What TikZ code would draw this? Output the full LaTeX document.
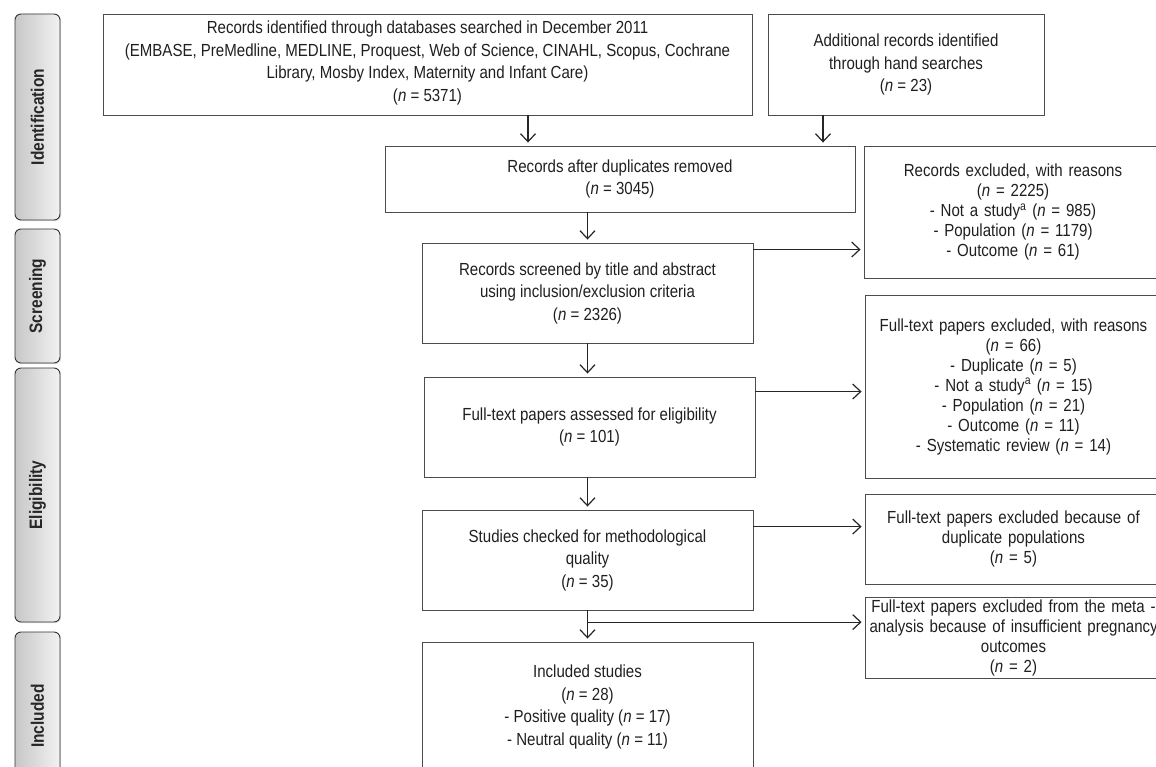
\documentclass[tikz,border=0pt]{standalone}
\usepackage{fontspec}
\setmainfont[FakeStretch=0.86]{Liberation Sans}
\usetikzlibrary{arrows.meta,shadows,calc}

\begin{document}
\begin{tikzpicture}[x=1pt,y=-1pt,
    box/.style={draw=black!70, line width=0.9pt, align=center, inner sep=0pt, text=black!88,
      font=\fontsize{17.5}{22.5}\selectfont},
    sidebox/.style={box, text width=288pt, font=\fontsize{17.5}{20}\selectfont},
    phase/.style={draw=black!80, line width=0.9pt, rounded corners=6pt, rotate=90,
      left color=black!22, right color=black!5, text=black!85, inner sep=0pt,
      font=\bfseries\fontsize{18}{20}\selectfont,
      drop shadow={shadow xshift=1.2pt, shadow yshift=-1.2pt, opacity=0.25}},
    arr/.style={-{Straight Barb[length=8pt,width=15pt]}, line width=1.2pt, draw=black!85, shorten >=3pt}]
  \useasboundingbox (0,0) rectangle (1156,767);
  \clip (0,0) rectangle (1156,767);

  % phases on the left
  \node[phase, minimum width=206pt, minimum height=45pt] (ident) at (37.5,117) {Identification};
  \node[phase, minimum width=134pt, minimum height=45pt] (scr) at (37.5,296) {Screening};
  \node[phase, minimum width=254pt, minimum height=45pt] (elig) at (37.5,495) {Eligibility};
  \node[phase, minimum width=168pt, minimum height=45pt] (inc) at (37.5,716) {Included};

  % main column
  \node[box, minimum width=649pt, minimum height=101pt] (recdb) at (427.5,64.5)
    {Records identified through databases searched in December 2011\\(EMBASE, PreMedline, MEDLINE, Proquest, Web of Science, CINAHL, Scopus, Cochrane\\Library, Mosby Index, Maternity and Infant Care)\\(\textit{n} = 5371)\\[-16pt]\mbox{}};
  \node[box, minimum width=276pt, minimum height=101pt] (hand) at (906,64.5)
    {Additional records identified\\through hand searches\\(\textit{n} = 23)};
  \node[box, minimum width=470pt, minimum height=66pt] (dedup) at (620,179)
    {Records after duplicates removed\\(\textit{n} = 3045)};
  \node[box, minimum width=331pt, minimum height=100pt] (screen) at (587.5,293)
    {Records screened by title and abstract\\using inclusion/exclusion criteria\\(\textit{n} = 2326)};
  \node[box, minimum width=331pt, minimum height=100pt] (fulltext) at (589.5,427)
    {Full-text papers assessed for eligibility\\(\textit{n} = 101)};
  \node[box, minimum width=331pt, minimum height=100pt] (quality) at (587.5,560)
    {Studies checked for methodological\\quality\\(\textit{n} = 35)};
  \node[box, minimum width=331pt, minimum height=130pt] (incl) at (587.5,707)
    {Included studies\\(\textit{n} = 28)\\- Positive quality (\textit{n} = 17)\\- Neutral quality (\textit{n} = 11)};

  % exclusions on the right
  \node[sidebox, minimum width=298pt, minimum height=132pt] (exrec) at (1013,212)
    {Records excluded, with reasons\\(\textit{n} = 2225)\\- Not a study\textsuperscript{a} (\textit{n} = 985)\\- Population (\textit{n} = 1179)\\- Outcome (\textit{n} = 61)};
  \node[sidebox, minimum width=297pt, minimum height=183pt] (exft) at (1013.5,386.5)
    {Full-text papers excluded, with reasons\\(\textit{n} = 66)\\- Duplicate (\textit{n} = 5)\\- Not a study\textsuperscript{a} (\textit{n} = 15)\\- Population (\textit{n} = 21)\\- Outcome (\textit{n} = 11)\\- Systematic review (\textit{n} = 14)};
  \node[sidebox, minimum width=297pt, minimum height=90pt] (expop) at (1013.5,539)
    {Full-text papers excluded because of\\duplicate populations\\(\textit{n} = 5)};
  \node[sidebox, minimum width=297pt, minimum height=81pt] (exmeta) at (1013.5,637.5)
    {\mbox{Full-text papers excluded from the meta -}\\\mbox{analysis because of insufficient pregnancy}\\outcomes\\(\textit{n} = 2)};

  % arrows
  \draw[arr] ([xshift=100.5pt]recdb.south) -- ([xshift=100.5pt]recdb.south |- dedup.north);
  \draw[arr] ([xshift=-83pt]hand.south) -- ([xshift=-83pt]hand.south |- dedup.north);
  \draw[arr] (dedup.south -| screen.north) -- (screen.north);
  \draw[arr] ([yshift=-7pt]screen.north east) -- ([yshift=-7pt]screen.north east -| exrec.west);
  \draw[arr] (screen.south) -- (screen.south |- fulltext.north);
  \draw[arr] ([yshift=-15pt]fulltext.north east) -- ([yshift=-15pt]fulltext.north east -| exft.west);
  \draw[arr] (fulltext.south -| quality.north) -- (quality.north);
  \draw[arr] ([yshift=-17pt]quality.north east) -- ([yshift=-17pt]quality.north east -| expop.west);
  \draw[arr] (quality.south) -- (incl.north);
  \coordinate (split) at ($(quality.south)!0.375!(incl.north)$);
  \draw[arr] (split) -- (split -| exmeta.west);
\end{tikzpicture}
\end{document}
